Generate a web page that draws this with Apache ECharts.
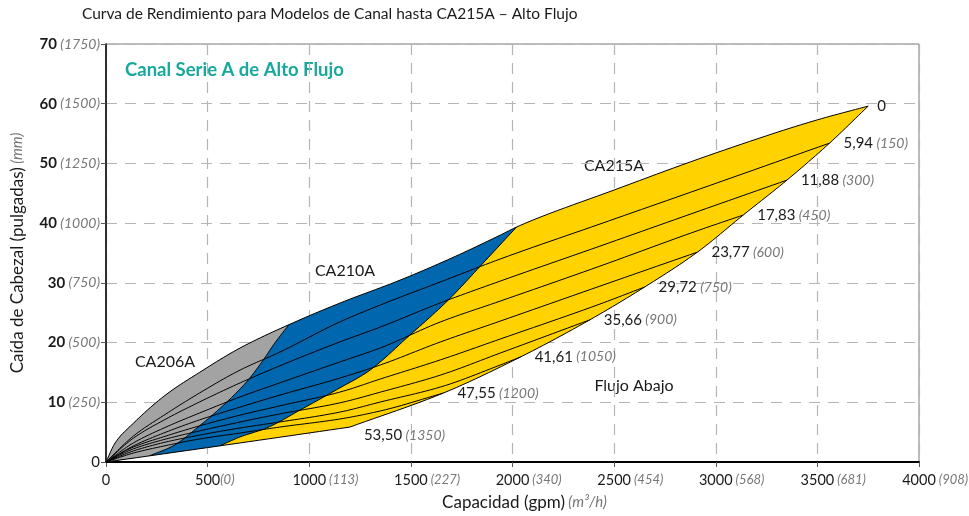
<!DOCTYPE html>
<html><head><meta charset="utf-8">
<script src="https://cdn.jsdelivr.net/npm/echarts@6/dist/echarts.min.js"></script>
<style>html,body{margin:0;padding:0;background:#fff}#c{width:969px;height:516px}</style>
</head><body><div id="c"></div>
<script>
// ---- tick labels ----
const xTicks = [0, 500, 1000, 1500, 2000, 2500, 3000, 3500, 4000];
const xTickAlt = ['', '(0)', '(113)', '(227)', '(340)', '(454)', '(568)', '(681)', '(908)'];
const yTicks = [0, 10, 20, 30, 40, 50, 60, 70];
const yTickAlt = ['', '(250)', '(500)', '(750)', '(1000)', '(1250)', '(1500)', '(1750)'];

// ---- curve labels (downstream level, in / mm) ----
const levelIn = ['0', '5,94', '11,88', '17,83', '23,77', '29,72', '35,66', '41,61', '47,55', '53,50'];
const levelMm = ['', '(150)', '(300)', '(450)', '(600)', '(750)', '(900)', '(1050)', '(1200)', '(1350)'];

// ---- curves: [gpm, inches] ----
const c0000 = [[0,0],[45,3.2],[135,6.5],[300,11.4],[460,15.0],[660,19.1],[900,23.0],[1150,26.6],[1450,30.5],[1700,34.15],[1940,38.0],[2020,39.35],[2500,45.55],[3000,51.75],[3500,57.3],[3750,59.6]];
const c0594 = [[0,0],[135,4.35],[295,8.05],[460,11.55],[660,15.4],[855,18.4],[1150,23.45],[1350,26.3],[1645,30.15],[1940,34.0],[2430,39.85],[2920,45.7],[3560,53.4]];
const c1188 = [[0,0],[135,4.0],[295,7.2],[460,10.05],[660,13.25],[855,16.1],[1150,20.1],[1350,22.6],[1645,26.65],[1940,30.3],[2430,36.15],[2920,42.05],[3350,47.2]];
const c1783 = [[0,0],[135,3.2],[295,5.85],[460,8.2],[660,10.9],[855,13.25],[1150,16.75],[1350,19.1],[1645,23.45],[1940,26.95],[2430,32.8],[2920,38.85],[3135,41.35]];
const c2377 = [[0,0],[135,2.7],[295,5.0],[460,7.05],[660,9.2],[855,11.2],[1150,14.05],[1350,16.25],[1645,20.1],[1940,23.6],[2430,29.45],[2910,35.15]];
const c2972 = [[0,0],[135,2.5],[295,4.35],[460,6.05],[660,7.85],[855,9.4],[1150,11.7],[1350,13.9],[1645,17.1],[1940,20.6],[2430,26.45],[2650,29.3]];
const c3566 = [[0,0],[135,2.2],[295,3.85],[460,5.2],[660,6.7],[855,8.05],[1150,9.9],[1350,11.7],[1645,14.55],[1940,18.25],[2380,23.8]];
const c4161 = [[0,0],[135,1.85],[295,3.35],[460,4.5],[660,5.7],[855,6.7],[1150,8.35],[1350,10.05],[1645,12.55],[1940,16.25],[2040,17.6]];
const c4755 = [[0,0],[135,1.5],[295,2.75],[460,3.85],[660,4.85],[855,5.85],[1150,7.2],[1350,8.55],[1660,11.55]];
const c5350 = [[0,0],[600,2.9],[1200,5.85]];
const curves = [c0000, c0594, c1188, c1783, c2377, c2972, c3566, c4161, c4755, c5350];

// ---- model capacity limits (right edge of each model's region) ----
const limitCA206A = [[900,23.0],[830,19.9],[770,16.9],[700,13.75],[625,11.05],[535,8.2],[460,6.05],[330,2.7],[215,1.05]];
const limitCA210A = [[2020,39.35],[1855,33.3],[1685,27.15],[1495,21.25],[1285,15.05],[1150,12.4],[955,8.7],[790,5.7],[660,4.2],[560,2.7]];

const FONT = 'Lato';
const INK = '#1a1a1a';
const GREY = '#777';

// smooth monotone cubic through pixel points (sorted by x)
function smoothPx(px) {
  const n = px.length;
  if (n < 3) return px.slice();
  const d = [], m = [], t = [];
  for (let i = 0; i < n - 1; i++) { d[i] = px[i+1][0] - px[i][0]; m[i] = (px[i+1][1] - px[i][1]) / d[i]; }
  t[0] = m[0]; t[n-1] = m[n-2];
  for (let i = 1; i < n - 1; i++) {
    if (m[i-1] * m[i] <= 0) t[i] = 0;
    else t[i] = 3 * (d[i-1] + d[i]) / ((2 * d[i] + d[i-1]) / m[i-1] + (d[i] + 2 * d[i-1]) / m[i]);
  }
  const out = [px[0]];
  for (let i = 0; i < n - 1; i++) {
    const steps = 12;
    for (let k = 1; k <= steps; k++) {
      const s = k / steps, s2 = s * s, s3 = s2 * s;
      const h00 = 2*s3 - 3*s2 + 1, h10 = s3 - 2*s2 + s, h01 = -2*s3 + 3*s2, h11 = s3 - s2;
      out.push([px[i][0] + s * d[i],
        h00 * px[i][1] + h10 * d[i] * t[i] + h01 * px[i+1][1] + h11 * d[i] * t[i+1]]);
    }
  }
  return out;
}
const asc = pts => pts.slice().sort((a, b) => a[0] - b[0]);

const richLbl = {
  n: { fontFamily: FONT, fontSize: 15, fill: INK, color: INK },
  p: { fontFamily: FONT, fontSize: 14, fontStyle: 'italic', fill: GREY, color: GREY }
};
const richX = {
  n: { fontFamily: FONT, fontSize: 14.5, fill: INK, color: INK },
  p: { fontFamily: FONT, fontSize: 13, fontStyle: 'italic', fill: GREY, color: GREY }
};
const measureCtx = document.createElement('canvas').getContext('2d');
function textW(s, font) { measureCtx.font = font; return measureCtx.measureText(s).width; }

function renderFlume(params, api) {
  const toPx = pts => pts.map(p => api.coord(p));
  const curvePx = curves.map(c => smoothPx(toPx(c)));
  const ends = curves.map(c => c[c.length - 1]);
  const frontierPx = smoothPx(toPx(asc(ends)));
  const lim206 = smoothPx(toPx(asc(limitCA206A)));
  const lim210 = smoothPx(toPx(asc(limitCA210A)));
  const top = curvePx[0];
  const bottom = curvePx[9];
  const j206 = api.coord(limitCA206A[0])[0] + 0.01;
  const j210 = api.coord(limitCA210A[0])[0] + 0.01;
  const origin = api.coord([0, 0]);

  const yellow = top.concat(frontierPx.slice().reverse(), bottom.slice().reverse());
  const blue = top.filter(p => p[0] <= j210).concat(lim210.slice().reverse(), [origin]);
  const grey = top.filter(p => p[0] <= j206).concat(lim206.slice().reverse(), [origin]);

  const children = [
    { type: 'polygon', shape: { points: yellow }, style: { fill: '#ffd200' } },
    { type: 'polygon', shape: { points: blue }, style: { fill: '#0066ad' } },
    { type: 'polygon', shape: { points: grey }, style: { fill: '#a3a3a3' } }
  ];
  const strokes = curvePx.concat([frontierPx, lim206, lim210]);
  strokes.forEach(pts => children.push({
    type: 'polyline', shape: { points: pts },
    style: { stroke: '#000', lineWidth: 1, fill: null }
  }));
  ends.forEach((e, i) => {
    const p = api.coord(e);
    const txt = levelMm[i] ? '{n|' + levelIn[i] + '} {p|' + levelMm[i] + '}' : '{n|' + levelIn[i] + '}';
    children.push({
      type: 'text', x: p[0] + (i === 0 ? 9 : 14), y: p[1] + (i === 9 ? 8 : 0),
      style: { text: txt, rich: richLbl, align: 'left', verticalAlign: 'middle' }
    });
  });
  // x tick labels: number centred on the tick, metric value trailing
  xTicks.forEach((v, i) => {
    const p = api.coord([v, 0]);
    const num = String(v);
    const w = textW(num, '14.5px ' + FONT);
    const txt = xTickAlt[i] ? '{n|' + num + '}{p|' + (v === 500 ? '' : ' ') + xTickAlt[i] + '}' : '{n|' + num + '}';
    children.push({
      type: 'text', x: p[0] - w / 2, y: p[1] + 18,
      style: { text: txt, rich: richX, align: 'left', verticalAlign: 'middle' }
    });
  });
  return { type: 'group', children };
}

const chart = echarts.init(document.getElementById('c'), null, { renderer: 'canvas' });
chart.setOption({
  animation: false,
  backgroundColor: '#fff',
  grid: { left: 106, right: 50, top: 44, bottom: 54, containLabel: false, outerBoundsMode: 'none',
          show: true, borderColor: '#7a7a7a', borderWidth: 1 },
  xAxis: {
    type: 'value', min: 0, max: 4000, interval: 500,
    name: '{a|Capacidad (gpm)} {b|(m³/h)}', nameLocation: 'middle', nameGap: 32,
    nameTextStyle: { padding: [0, 0, 0, 24], rich: {
      a: { fontFamily: FONT, fontSize: 17, color: INK },
      b: { fontFamily: FONT, fontSize: 15, fontStyle: 'italic', color: GREY } } },
    axisLine: { lineStyle: { color: '#000', width: 2 } },
    axisTick: { show: true, length: 5, lineStyle: { color: '#555' } },
    splitLine: { show: true, lineStyle: { color: '#b5b5b5', type: [11, 8], width: 1.2 } },
    axisLabel: { show: false }
  },
  yAxis: {
    type: 'value', min: 0, max: 70, interval: 10,
    name: '{a|Caída de Cabezal (pulgadas)} {b|(mm)}', nameLocation: 'middle', nameGap: 80,
    nameTextStyle: { rich: {
      a: { fontFamily: FONT, fontSize: 17, color: INK },
      b: { fontFamily: FONT, fontSize: 15, fontStyle: 'italic', color: GREY } } },
    axisLine: { show: true, lineStyle: { color: '#000', width: 1.5 } },
    axisTick: { show: true, length: 5, lineStyle: { color: '#555' } },
    splitLine: { show: true, lineStyle: { color: '#b5b5b5', type: [11, 8], width: 1.2 } },
    axisLabel: {
      margin: 6, showMaxLabel: true, showMinLabel: true,
      formatter: v => {
        const alt = yTickAlt[yTicks.indexOf(v)];
        if (!alt) return '{z|' + v + '}';
        return '{b|' + v + '} {p|' + alt + '}';
      },
      rich: {
        z: { fontFamily: FONT, fontSize: 15, color: INK },
        b: { fontFamily: FONT, fontSize: 15, fontWeight: 'bold', color: INK },
        p: { fontFamily: FONT, fontSize: 14, fontStyle: 'italic', color: GREY }
      }
    }
  },
  graphic: [
    { type: 'text', left: 82, top: 6, style: { text: 'Curva de Rendimiento para Modelos de Canal hasta CA215A – Alto Flujo', font: '15.5px Lato', fill: INK } },
    { type: 'text', left: 125, top: 61, style: { text: 'Canal Serie A de Alto Flujo', font: 'bold 18.5px Lato', fill: '#17a99b' } },
    { type: 'text', x: 165, y: 362, style: { text: 'CA206A', font: '16px Lato', fill: INK, align: 'center', verticalAlign: 'middle' } },
    { type: 'text', x: 345, y: 271, style: { text: 'CA210A', font: '16px Lato', fill: INK, align: 'center', verticalAlign: 'middle' } },
    { type: 'text', x: 614, y: 166, style: { text: 'CA215A', font: '16px Lato', fill: INK, align: 'center', verticalAlign: 'middle' } },
    { type: 'text', x: 634, y: 386, style: { text: 'Flujo Abajo', font: '16px Lato', fill: INK, align: 'center', verticalAlign: 'middle' } }
  ],
  series: [{
    type: 'custom', coordinateSystem: 'cartesian2d', silent: true, clip: false,
    data: [[0, 0]],
    renderItem: renderFlume
  }]
});
</script></body></html>
